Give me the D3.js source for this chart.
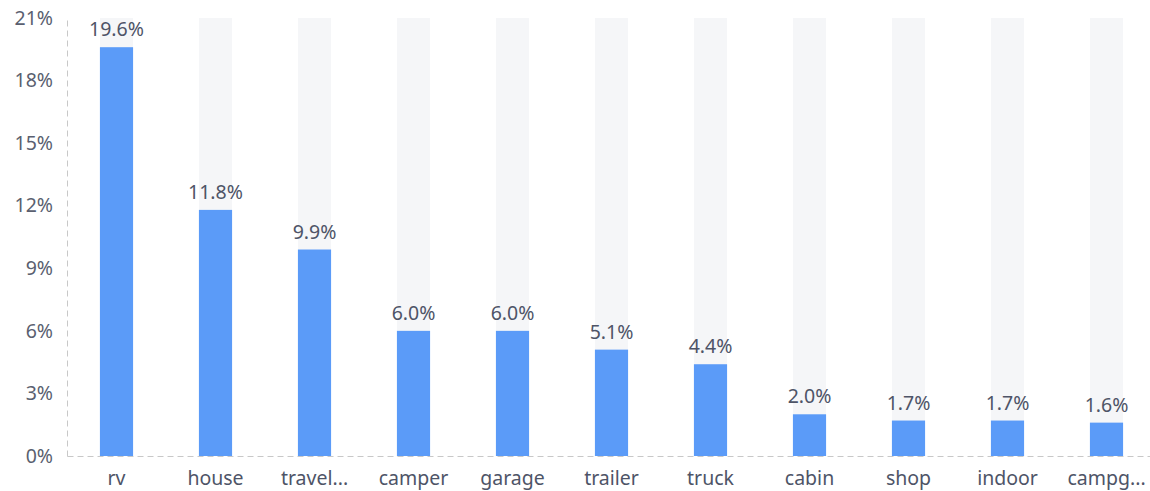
<!DOCTYPE html>
<html>
<head>
<meta charset="utf-8">
<script src="https://cdn.jsdelivr.net/npm/d3@7"></script>
<style>
  body { margin: 0; background: #fff; }
  text { font-family: "Noto Sans", sans-serif; }
</style>
</head>
<body>
<div id="chart"></div>
<script>
const categories = ['rv', 'house', 'travel...', 'camper', 'garage', 'trailer', 'truck', 'cabin', 'shop', 'indoor', 'campg...']
const values = [19.6, 11.8, 9.9, 6.0, 6.0, 5.1, 4.4, 2.0, 1.7, 1.7, 1.6]
const yTicks = [0, 3, 6, 9, 12, 15, 18, 21]

const width = 1150, height = 491
const margin = { top: 18, right: -6, bottom: 35, left: 67 }
const innerW = width - margin.left - margin.right
const innerH = height - margin.top - margin.bottom

const svg = d3.select('#chart')
    .append('svg')
    .attr('width', width)
    .attr('height', height)

const g = svg.append('g')
    .attr('transform', `translate(${margin.left}, ${margin.top})`)

const x = d3.scaleBand()
    .domain(categories)
    .range([0, innerW])
    .paddingInner(0.665)
    .paddingOuter(0.3325)

const y = d3.scaleLinear()
    .domain([0, 21])
    .range([innerH, 0])

// background columns
g.selectAll('.bg')
    .data(categories)
    .enter()
    .append('rect')
    .attr('x', d => x(d))
    .attr('y', y(21))
    .attr('width', x.bandwidth())
    .attr('height', innerH)
    .attr('fill', '#f5f6f8')

g.selectAll('.bar')
    .data(values)
    .enter()
    .append('rect')
    .attr('x', (d, i) => x(categories[i]))
    .attr('y', d => y(d))
    .attr('width', x.bandwidth())
    .attr('height', d => innerH - y(d))
    .attr('fill', '#5b9bf8')

g.selectAll('.val')
    .data(values)
    .enter()
    .append('text')
    .attr('x', (d, i) => x(categories[i]) + x.bandwidth() / 2)
    .attr('y', d => y(d) - 11)
    .attr('text-anchor', 'middle')
    .attr('font-size', 19.5)
    .attr('fill', '#4e5467')
    .text(d => d.toFixed(1) + '%')

// y axis
const yAxis = g.append('g')
    .call(d3.axisLeft(y).tickValues(yTicks).tickFormat(d => d + '%').tickSize(0))
yAxis.select('.domain')
    .attr('stroke', '#c8c8c8')
    .attr('stroke-dasharray', '6,4')
yAxis.selectAll('text')
    .attr('x', -14)
    .attr('font-size', 19.5)
    .attr('fill', '#5a5f70')
    .attr('font-family', '"Noto Sans", sans-serif')

// x axis
const xAxis = g.append('g')
    .attr('transform', `translate(0, ${innerH})`)
    .call(d3.axisBottom(x).tickSize(0))
xAxis.select('.domain')
    .attr('stroke', '#c8c8c8')
    .attr('stroke-dasharray', '6,4')
xAxis.selectAll('text')
    .attr('y', 15)
    .attr('font-size', 19.5)
    .attr('fill', '#4e5467')
    .attr('font-family', '"Noto Sans", sans-serif')
</script>
</body>
</html>
